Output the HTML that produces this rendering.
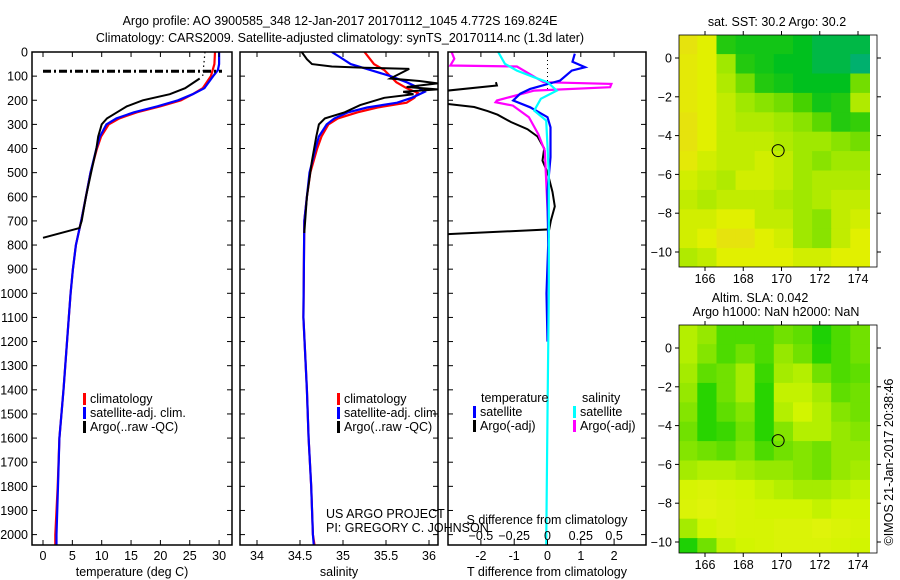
<!DOCTYPE html>
<html><head><meta charset="utf-8"><style>
html,body{margin:0;padding:0;background:#fff;}
svg{display:block;font-family:"Liberation Sans",sans-serif;}
text{fill:#000;font-size:12.5px;}
</style></head><body>
<svg id="c" width="900" height="580" viewBox="0 0 900 580" xmlns="http://www.w3.org/2000/svg">
<text x="340" y="25" text-anchor="middle">Argo profile: AO 3900585_348 12-Jan-2017 20170112_1045 4.772S 169.824E</text>
<text x="340" y="42" text-anchor="middle">Climatology: CARS2009. Satellite-adjusted climatology: synTS_20170114.nc (1.3d later)</text>
<g id="g1"></g>
<g id="g2"></g>
<g id="g3"></g>
<g id="m1"></g>
<g id="m2"></g>
<text x="340" y="0" transform="translate(893,462) rotate(-90)" x="0" text-anchor="middle"><tspan x="0" y="0">©IMOS 21-Jan-2017 20:38:46</tspan></text>
</svg>
<script>
// ---- data ----
const depthTicks=[0,100,200,300,400,500,600,700,800,900,1000,1100,1200,1300,1400,1500,1600,1700,1800,1900,2000];
const tempTicks=[0,5,10,15,20,25,30];
const salTicks=[34,34.5,35,35.5,36];
const tdTicks=[-2,-1,0,1,2];
const sdTicks=[-0.5,-0.25,0,0.25,0.5];
const climTd=[0,50,100,150,175,200,225,250,275,300,350,400,500,600,700,800,900,1000,1100,1400,1600,1800,2000,2045];
const climT=[29.3,29.2,28.6,27.2,25.5,23.5,20,16,13,11.2,9.9,9.2,8.1,7.3,6.5,5.6,5.1,4.7,4.4,3.5,2.8,2.5,2.1,2.1];
const satTd=[0,50,75,100,150,175,200,225,250,275,300,350,400,500,600,700,800,900,1000,1100,1400,1600,1800,2000,2045];
const satT=[30.0,30.0,29.8,29.0,27.5,25.5,23,19.5,15.5,12.5,10.8,9.7,9.1,8.1,7.3,6.5,5.6,5.1,4.7,4.4,3.5,2.8,2.55,2.3,2.3];
const argoTd=[110,150,175,200,225,250,275,300,350,400,500,600,700,730,770];
const argoT=[26.7,24.2,21.6,17,14.3,12.6,10.9,10.0,9.4,9.1,8.2,7.3,6.6,6.2,0];
const argoDotD=[0,100];
const argoDotT=[27.6,27.2];
const spikeD=80; const spikeT=[0,30.5];
const climSd=[0,50,75,100,125,150,170,190,210,230,250,275,300,350,400,500,600,700,1100,1400,1600,1800,2000,2045];
const climS=[35.25,35.36,35.48,35.55,35.62,35.74,35.87,35.83,35.74,35.40,35.17,34.94,34.83,34.75,34.70,34.62,34.58,34.55,34.54,34.58,34.60,34.63,34.65,34.67];
const satSd=[0,25,50,75,100,125,150,165,190,210,230,250,275,300,350,400,500,600,700,1100,1400,1600,1800,2000,2045];
const satS=[34.87,34.98,35.09,35.32,35.55,35.74,35.89,35.95,35.8,35.63,35.28,35.06,34.9,34.81,34.72,34.68,34.61,34.58,34.55,34.54,34.58,34.60,34.63,34.65,34.66];
const argoSd=[0,30,50,60,65,70,110,120,130,145,155,165,175,190,220,250,275,300,350,450,600,750];
const argoS=[34.52,34.58,34.64,34.87,35.25,35.77,35.55,35.89,36.1,35.74,36.1,35.70,35.82,35.48,35.2,35.02,34.79,34.72,34.69,34.64,34.58,34.55];
const dTsatD=[7,40,63,77,118,153,173,201,229,270,312,436,575,800,1000,1200];
const dTsat=[0.82,0.75,1.13,0.73,0.38,-0.52,-0.82,-1.03,-0.52,0,0.09,0.09,0,0.02,-0.03,0];
const dTargoAD=[125,139,160];
const dTargoA=[-1.55,-1.52,-3];
const dTargoBD=[215,228,245,260,290,320,350,400,450,500,580,640,700,735,755];
const dTargoB=[-3,-2.2,-1.8,-1.5,-1.1,-0.6,-0.3,-0.1,-0.15,0,0.15,0.22,0.1,0.05,-3];
const dSsatD=[0,49,77,105,125,160,194,243,284,500,1000,1500,2045];
const dSsat=[-0.37,-0.32,-0.23,-0.1,0,0.07,-0.05,-0.1,-0.01,0.01,0.01,0.0,-0.01];
const dSargoD=[0,28,56,60,125,132,146,160,201,208,222,270,340,409,770];
const dSargo=[-0.72,-0.70,-0.73,-0.23,-0.03,0.48,0.47,-0.1,-0.38,-0.39,-0.26,-0.14,-0.07,-0.02,0.01];
const mapLonTicks=[166,168,170,172,174];
const mapLatTicks=[0,-2,-4,-6,-8,-10];
const sstGrid=[
[0.2,0.3,0.8,0.85,0.85,0.85,0.9,0.95,0.95,0.95],
[0.25,0.3,0.5,0.8,0.85,0.9,0.9,0.95,0.95,1.0],
[0.25,0.3,0.45,0.6,0.8,0.85,0.9,0.9,0.9,0.6],
[0.25,0.3,0.4,0.5,0.55,0.6,0.7,0.85,0.8,0.45],
[0.2,0.3,0.4,0.45,0.45,0.5,0.55,0.65,0.8,0.75],
[0.2,0.3,0.4,0.4,0.4,0.45,0.5,0.5,0.55,0.6],
[0.25,0.35,0.4,0.4,0.35,0.4,0.5,0.55,0.5,0.5],
[0.35,0.4,0.45,0.35,0.35,0.4,0.5,0.45,0.45,0.45],
[0.4,0.45,0.4,0.4,0.4,0.45,0.5,0.45,0.4,0.4],
[0.35,0.35,0.3,0.3,0.4,0.4,0.5,0.55,0.4,0.35],
[0.35,0.3,0.2,0.2,0.3,0.35,0.5,0.55,0.4,0.3],
[0.45,0.4,0.3,0.3,0.3,0.3,0.35,0.35,0.3,0.3]];
const slaGrid=[
[0.4,0.5,0.7,0.7,0.7,0.6,0.65,0.85,0.7,0.6],
[0.4,0.55,0.7,0.6,0.7,0.5,0.6,0.8,0.7,0.6],
[0.45,0.65,0.6,0.45,0.75,0.45,0.4,0.6,0.7,0.65],
[0.5,0.8,0.6,0.45,0.8,0.35,0.35,0.45,0.65,0.6],
[0.55,0.8,0.65,0.55,0.8,0.4,0.3,0.4,0.55,0.6],
[0.6,0.8,0.75,0.6,0.8,0.55,0.4,0.4,0.5,0.55],
[0.55,0.6,0.65,0.55,0.7,0.6,0.55,0.6,0.5,0.5],
[0.45,0.4,0.4,0.45,0.5,0.5,0.55,0.6,0.5,0.45],
[0.25,0.2,0.25,0.3,0.35,0.4,0.45,0.45,0.4,0.35],
[0.2,0.15,0.2,0.25,0.3,0.3,0.3,0.35,0.3,0.3],
[0.45,0.3,0.2,0.25,0.25,0.2,0.2,0.15,0.2,0.25],
[0.85,0.6,0.35,0.3,0.25,0.2,0.2,0.2,0.25,0.3]];
const argoLon=169.824, argoLat=-4.772;

// ---- helpers ----
const NS='http://www.w3.org/2000/svg';
function mk(parent,tag,attrs,txt){const e=document.createElementNS(NS,tag);for(const k in attrs)e.setAttribute(k,attrs[k]);if(txt!==undefined)e.textContent=txt;parent.appendChild(e);return e;}
const TOP=52,BOT=545;
const yD=d=>52+0.2413*d;
const xT=t=>43+5.87*t;
const xS=s=>257+86*(s-34);
const xdT=t=>547.5+33.3*t;
const xdS=s=>547.5+133.2*s;
function clipFor(id,x0,x1){const g=document.getElementById('c');let defs=g.querySelector('defs');if(!defs)defs=mk(g,'defs',{});const cp=mk(defs,'clipPath',{id:id});mk(cp,'rect',{x:x0,y:TOP,width:x1-x0,height:BOT-TOP});}
function line(g,ds,vs,fx,col,w,name,dash){
  const pts=ds.map((d,i)=>fx(vs[i]).toFixed(1)+','+yD(d).toFixed(1)).join(' ');
  const p=mk(g,'polyline',{points:pts,fill:'none',stroke:col,'stroke-width':w});
  if(dash)p.setAttribute('stroke-dasharray',dash);
  
  
  return p;}
function frame(g,x0,x1,labels){
  const r=mk(g,'rect',{x:x0,y:TOP,width:x1-x0,height:BOT-TOP,fill:'none',stroke:'#000','stroke-width':1.5});
  
  
  depthTicks.forEach(d=>{const y=yD(d);
    mk(g,'line',{x1:x0,x2:x0+5,y1:y,y2:y,stroke:'#000'});
    mk(g,'line',{x1:x1-5,x2:x1,y1:y,y2:y,stroke:'#000'});
    if(labels){const t=mk(g,'text',{x:x0-4,y:y+4.5,'text-anchor':'end'},String(d));
      
      }
  });}
function xticks(g,vals,fx,yl,ylab){vals.forEach(v=>{const x=fx(v);
  mk(g,'line',{x1:x,x2:x,y1:BOT,y2:BOT-5,stroke:'#000'});
  mk(g,'line',{x1:x,x2:x,y1:TOP,y2:TOP+5,stroke:'#000'});
  const t=mk(g,'text',{x:x,y:yl,'text-anchor':'middle'},String(v));
  
  });}
function legend(g,x,y,items){items.forEach((it,i)=>{
  const r=mk(g,'rect',{x:x,y:y+i*14-10,width:3,height:12,fill:it[1]});
  
  
  const t=mk(g,'text',{x:x+7,y:y+i*14},it[0]);
  
  });}

// ---- panel 1: temperature ----
const g1=document.getElementById('g1');
clipFor('cp1',32,232);
const c1=mk(g1,'g',{'clip-path':'url(#cp1)'});
line(c1,climTd,climT,xT,'#ff0000',2.2,'climatology-temp-line');
line(c1,satTd,satT,xT,'#0000ff',2.2,'satellite-temp-line');
line(c1,argoTd,argoT,xT,'#000',2,'argo-temp-line');
line(c1,argoDotD,argoDotT,xT,'#000',1.2,'argo-temp-flagged-line','1.5,3');
line(c1,[spikeD,spikeD],spikeT,xT,'#000',3,'argo-temp-spike','8,3,2,3');
frame(g1,32,232,true);
xticks(g1,tempTicks,xT,560);
mk(g1,'text',{x:132,y:576,'text-anchor':'middle',},'temperature (deg C)');
legend(g1,83,403,[['climatology','#ff0000'],['satellite-adj. clim.','#0000ff'],['Argo(..raw -QC)','#000']]);

// ---- panel 2: salinity ----
const g2=document.getElementById('g2');
clipFor('cp2',240,438);
const c2=mk(g2,'g',{'clip-path':'url(#cp2)'});
line(c2,climSd,climS,xS,'#ff0000',2.2,'climatology-salinity-line');
line(c2,satSd,satS,xS,'#0000ff',2.2,'satellite-salinity-line');
line(c2,argoSd,argoS,xS,'#000',2,'argo-salinity-line');
frame(g2,240,438,false);
xticks(g2,salTicks,xS,560);
mk(g2,'text',{x:339,y:576,'text-anchor':'middle',},'salinity');
legend(g2,337,403,[['climatology','#ff0000'],['satellite-adj. clim.','#0000ff'],['Argo(..raw -QC)','#000']]);
mk(g2,'text',{x:326,y:518,},'US ARGO PROJECT');
mk(g2,'text',{x:326,y:532,},'PI: GREGORY C. JOHNSON');

// ---- panel 3: differences ----
const g3=document.getElementById('g3');
clipFor('cp3',448,646);
const c3=mk(g3,'g',{'clip-path':'url(#cp3)'});
mk(c3,'line',{x1:xdT(0),x2:xdT(0),y1:TOP,y2:yD(160),stroke:'#000','stroke-dasharray':'1,3'});
line(c3,dTargoAD,dTargoA,xdT,'#000',2,'argo-temp-diff-line-upper');
line(c3,dTargoBD,dTargoB,xdT,'#000',2,'argo-temp-diff-line');
line(c3,dSargoD,dSargo,xdS,'#ff00ff',2.2,'argo-salinity-diff-line');
line(c3,dTsatD,dTsat,xdT,'#0000ff',2.2,'satellite-temp-diff-line');
line(c3,dSsatD,dSsat,xdS,'#00ffff',2.2,'satellite-salinity-diff-line');
frame(g3,448,646,false);
xticks(g3,tdTicks,xdT,560);
sdTicks.forEach(v=>{const t=mk(g3,'text',{x:xdS(v),y:540,'text-anchor':'middle'},String(v).replace('-','−'));
  
  });
mk(g3,'text',{x:547,y:524,'text-anchor':'middle',},'S difference from climatology');
mk(g3,'text',{x:547,y:576,'text-anchor':'middle',},'T difference from climatology');
mk(g3,'text',{x:481,y:402,},'temperature');
mk(g3,'text',{x:582,y:402,},'salinity');
legend(g3,473,416,[['satellite','#0000ff'],['Argo(-adj)','#000']]);
legend(g3,573,416,[['satellite','#00ffff'],['Argo(-adj)','#ff00ff']]);

// ---- maps ----
function lerp(a,b,t){return a+(b-a)*t;}
function ramp(stops,v){for(let i=0;i<stops.length-1;i++){if(v<=stops[i+1][0]){const t=(v-stops[i][0])/(stops[i+1][0]-stops[i][0]);const a=stops[i][1],b=stops[i+1][1];return 'rgb('+[0,1,2].map(k=>Math.round(lerp(a[k],b[k],t))).join(',')+')';}}const l=stops[stops.length-1][1];return 'rgb('+l.join(',')+')';}
const sstStops=[[0,[240,200,40]],[0.3,[225,240,0]],[0.5,[160,232,0]],[0.7,[70,210,0]],[0.9,[0,192,30]],[1,[0,176,110]]];
const slaStops=[[0,[235,240,20]],[0.3,[210,245,0]],[0.5,[150,232,0]],[0.8,[40,212,0]],[1,[0,200,20]]];
function drawMap(id,y0ref,top,bot,grid,stops,name){
  const g=document.getElementById(id);
  const lx=l=>705+19.125*(l-166);
  const ly=a=>y0ref-19.4*a;
  const x0=679,x1=877;
  const cp=mk(document.querySelector('defs'),'clipPath',{id:'cl'+id});
  mk(cp,'rect',{x:x0,y:top,width:x1-x0,height:bot-top});
  const cg=mk(g,'g',{'clip-path':'url(#cl'+id+')'});
  grid.forEach((row,r)=>row.forEach((v,c)=>{
    const lon=165+c, lat=1-r;
    const xa=lx(lon-0.4), xb=lx(lon+1-0.4);
    const ya=ly(lat+0.2), yb=ly(lat-1+0.2);
    const rc=mk(cg,'rect',{x:xa.toFixed(1),y:ya.toFixed(1),width:(xb-xa+0.6).toFixed(1),height:(yb-ya+0.6).toFixed(1),fill:ramp(stops,v)});
    
    
  }));
  const ci=mk(g,'circle',{cx:lx(argoLon),cy:ly(argoLat),r:6,fill:'none',stroke:'#000','stroke-width':1});
  
  
  mk(g,'rect',{x:x0,y:top,width:x1-x0,height:bot-top,fill:'none',stroke:'#000','stroke-width':0.8});
  mapLonTicks.forEach(l=>{const x=lx(l);
    mk(g,'line',{x1:x,x2:x,y1:top-4,y2:top,stroke:'#000'});
    mk(g,'line',{x1:x,x2:x,y1:bot,y2:bot+4,stroke:'#000'});
    const t=mk(g,'text',{x:x,y:bot+16,'text-anchor':'middle'},String(l));
    
    });
  mapLatTicks.forEach(a=>{const y=ly(a);
    mk(g,'line',{x1:x0-4,x2:x0,y1:y,y2:y,stroke:'#000'});
    mk(g,'line',{x1:x1,x2:x1+4,y1:y,y2:y,stroke:'#000'});
    const t=mk(g,'text',{x:x0-7,y:y+4.5,'text-anchor':'end'},String(a).replace('-','−'));
    
    });
}
drawMap('m1',58,35,267,sstGrid,sstStops,'sst');
drawMap('m2',348,325,553,slaGrid,slaStops,'sla');
const m1=document.getElementById('m1'),m2=document.getElementById('m2');
mk(m1,'text',{x:777,y:26,'text-anchor':'middle',},'sat. SST: 30.2 Argo: 30.2');
mk(m2,'text',{x:760,y:302,'text-anchor':'middle',},'Altim. SLA: 0.042');
mk(m2,'text',{x:776,y:316,'text-anchor':'middle',},'Argo h1000: NaN h2000: NaN');
</script>
</body></html>
